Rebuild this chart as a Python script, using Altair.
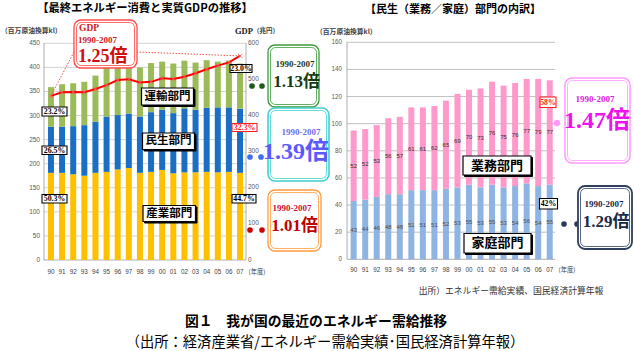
import altair as alt
import pandas as pd

# ---------------- data ----------------
years = ["90", "91", "92", "93", "94", "95", "96", "97", "98", "99",
         "00", "01", "02", "03", "04", "05", "06", "07"]
industry = [181, 181, 178, 175, 181, 183, 188, 191, 181, 183, 187, 180, 182, 182, 183, 182, 183, 181]
minsei = [96, 96, 100, 105, 106, 115, 113, 113, 117, 124, 125, 125, 133, 130, 133, 135, 134, 133]
transport = [82, 88, 89, 90, 96, 104, 104, 101, 102, 102, 100, 103, 99, 98, 99, 95, 97, 94]
gdp = [454, 464, 465, 464, 473, 484, 498, 500, 491, 493, 503, 501, 507, 517, 528, 538, 547, 565]
household = [43, 44, 46, 48, 48, 51, 51, 51, 52, 53, 55, 53, 55, 53, 54, 56, 54, 55]
business = [52, 52, 53, 56, 57, 61, 61, 62, 65, 69, 70, 73, 76, 75, 76, 77, 79, 77]
left_ticks = [0, 50, 100, 150, 200, 250, 300, 350, 400, 450]
gdp_ticks = [0, 100, 200, 300, 400, 500, 600]
right_ticks = [0, 20, 40, 60, 80, 100, 120, 140, 160]
left_sectors = ["産業部門", "民生部門", "運輸部門"]
right_sectors = ["家庭部門", "業務部門"]

# ---------------- styles ----------------
JP = "Noto Sans CJK JP"
SERIF = "Liberation Serif, Noto Sans CJK JP"
SANS = "Liberation Sans, Noto Sans CJK JP"
ONE = pd.DataFrame({"k": [0]})

L_X = alt.Scale(type="band", domain=years, range=[45.4, 245.6], paddingInner=0.46, paddingOuter=0.23)
L_Y = alt.Scale(domain=[0, 450], range=[260, 43.3], nice=False)
G_Y = alt.Scale(domain=[0, 600], range=[259.5, 43.3], nice=False)
R_X = alt.Scale(type="band", domain=years, range=[347.9, 555.5], paddingInner=0.48, paddingOuter=0.24)
R_Y = alt.Scale(domain=[0, 160], range=[259.3, 42.3], nice=False)


def rect(x1, y1, x2, y2, stroke="black", sw=1.0, fill="white", r=0, fop=1):
    return alt.Chart(ONE).mark_rect(stroke=stroke, strokeWidth=sw, fill=fill, cornerRadius=r,
                                    fillOpacity=fop).encode(
        x=alt.value(x1), x2=alt.value(x2), y=alt.value(y1), y2=alt.value(y2))


def txt(x, y, s, size, color="black", font=JP, weight="normal", align="center"):
    return alt.Chart(ONE).mark_text(text=s, fontSize=size, color=color, font=font, fontWeight=weight,
                                    align=align, baseline="middle").encode(x=alt.value(x), y=alt.value(y))


def dot(x, y, color, size=28):
    return alt.Chart(ONE).mark_circle(color=color, size=size, opacity=1).encode(x=alt.value(x), y=alt.value(y))


def seg(x1, y1, x2, y2, color, sw=1.0):
    return alt.Chart(ONE).mark_rule(color=color, strokeWidth=sw).encode(
        x=alt.value(x1), x2=alt.value(x2), y=alt.value(y1), y2=alt.value(y2))


def callout(x1, y1, x2, y2, color, ow=1.3, iw=0.8, r=7):
    return [rect(x1, y1, x2, y2, stroke=color, sw=ow, r=r),
            rect(x1 + 2.5, y1 + 2.5, x2 - 2.5, y2 - 2.5, stroke=color, sw=iw, r=r - 2)]


def pct(x1, y1, x2, y2, s, color="black"):
    return [rect(x1, y1, x2, y2, stroke=color, sw=1.1),
            txt((x1 + x2) / 2, (y1 + y2) / 2 + 0.3, s, 7.8, color=color, font=SERIF, weight="bold")]


def secbox(x1, y1, x2, y2, s, size):
    return [rect(x1 + 1.5, y1 + 1.5, x2 + 1.5, y2 + 1.5, stroke="black", sw=1, fill="black"),
            rect(x1, y1, x2, y2, stroke="black", sw=1.2),
            txt((x1 + x2) / 2, (y1 + y2) / 2, s, size, weight="bold")]


layers = []

# ---------------- left chart ----------------
lt = pd.DataFrame({"v": left_ticks})
layers.append(alt.Chart(lt[lt.v > 0]).mark_rule(color="#c8c8c8", strokeWidth=0.8).encode(
    y=alt.Y("v:Q", scale=L_Y, axis=None), x=alt.value(44), x2=alt.value(246)))
layers.append(alt.Chart(lt).mark_text(align="right", baseline="middle", fontSize=6.5, color="#595959",
                                      font=SANS).encode(
    y=alt.Y("v:Q", scale=L_Y, axis=None), x=alt.value(40), text="v:Q"))
gt = pd.DataFrame({"v": gdp_ticks})
layers.append(alt.Chart(gt).mark_text(align="left", baseline="middle", fontSize=6.5, color="#595959",
                                      font=SANS).encode(
    y=alt.Y("v:Q", scale=G_Y, axis=None), x=alt.value(248), text="v:Q"))
layers += [seg(44, 43, 44, 260, "#999999", 0.8), seg(246, 43, 246, 260, "#999999", 0.8),
           seg(44, 260, 246, 260, "#999999", 0.8)]

rows = []
for i, yr in enumerate(years):
    for o, (s, arr) in enumerate(zip(left_sectors, [industry, minsei, transport])):
        rows.append({"year": yr, "sector": s, "value": arr[i], "ord": o})
ldf = pd.DataFrame(rows)
layers.append(alt.Chart(ldf).mark_bar().encode(
    x=alt.X("year:N", scale=L_X, axis=None),
    y=alt.Y("value:Q", scale=L_Y, axis=None, stack="zero"),
    color=alt.Color("sector:N", scale=alt.Scale(domain=left_sectors,
                                                range=["#FFC000", "#1A6FC4", "#9BBB59"]), legend=None),
    order=alt.Order("ord:Q")))

xl = pd.DataFrame({"year": years})
layers.append(alt.Chart(xl).mark_text(fontSize=6.3, color="#404040", font=SANS, baseline="middle").encode(
    x=alt.X("year:N", scale=L_X, axis=None), y=alt.value(272), text="year:N"))
layers.append(txt(257, 272, "(年度)", 6.3, color="#404040", font=JP))

gdf = pd.DataFrame({"year": years, "gdp": gdp})
layers.append(alt.Chart(gdf).mark_line(color="#FF0000", strokeWidth=2).encode(
    x=alt.X("year:N", scale=L_X, axis=None), y=alt.Y("gdp:Q", scale=G_Y, axis=None)))
layers.append(alt.Chart(gdf).mark_point(shape="M-1,-1L1,1M-1,1L1,-1", size=14, color="#ff6060",
                                        filled=False, strokeWidth=1, opacity=1).encode(
    x=alt.X("year:N", scale=L_X, axis=None), y=alt.Y("gdp:Q", scale=G_Y, axis=None)))

# leader lines from GDP callout to first / last GDP point
layers.append(alt.Chart(gdf.iloc[[0]]).mark_rule(color="#ff5050", strokeWidth=1, strokeDash=[1.5, 1.5]).encode(
    x=alt.X("year:N", scale=L_X, axis=None), y=alt.Y("gdp:Q", scale=G_Y, axis=None),
    x2=alt.value(75), y2=alt.value(50)))
layers.append(alt.Chart(gdf.iloc[[-1]]).mark_rule(color="#ff5050", strokeWidth=1, strokeDash=[1.5, 1.5]).encode(
    x=alt.X("year:N", scale=L_X, axis=None), y=alt.Y("gdp:Q", scale=G_Y, axis=None),
    x2=alt.value(137), y2=alt.value(52)))

# ---------------- right chart ----------------
rt = pd.DataFrame({"v": right_ticks})
layers.append(alt.Chart(rt[rt.v > 0]).mark_rule(color="#b0b0b0", strokeWidth=0.8).encode(
    y=alt.Y("v:Q", scale=R_Y, axis=None), x=alt.value(347), x2=alt.value(555)))
layers.append(alt.Chart(rt).mark_text(align="right", baseline="middle", fontSize=6.3, color="#595959",
                                      font=SANS).encode(
    y=alt.Y("v:Q", scale=R_Y, axis=None), x=alt.value(342), text="v:Q"))
layers += [seg(347, 42, 347, 259.3, "#999999", 0.8), seg(347, 259.3, 555, 259.3, "#999999", 0.8)]

rrows, lrows = [], []
for i, yr in enumerate(years):
    rrows.append({"year": yr, "sector": right_sectors[0], "value": household[i], "ord": 0})
    rrows.append({"year": yr, "sector": right_sectors[1], "value": business[i], "ord": 1})
    lrows.append({"year": yr, "value": household[i], "mid": household[i] / 2, "c": "h"})
    lrows.append({"year": yr, "value": business[i], "mid": household[i] + business[i] / 2, "c": "b"})
rdf = pd.DataFrame(rrows)
layers.append(alt.Chart(rdf).mark_bar().encode(
    x=alt.X("year:N", scale=R_X, axis=None),
    y=alt.Y("value:Q", scale=R_Y, axis=None, stack="zero"),
    color=alt.Color("sector:N", scale=alt.Scale(domain=right_sectors, range=["#8DB4E2", "#FF99CC"]),
                    legend=None),
    order=alt.Order("ord:Q")))
labdf = pd.DataFrame(lrows)
layers.append(alt.Chart(labdf).mark_text(fontSize=6, font=SANS, baseline="middle").encode(
    x=alt.X("year:N", scale=R_X, axis=None), y=alt.Y("mid:Q", scale=R_Y, axis=None), text="value:Q",
    color=alt.Color("c:N", scale=alt.Scale(domain=["h", "b"], range=["#505050", "#303030"]), legend=None)))
layers.append(alt.Chart(xl).mark_text(fontSize=6.3, color="#404040", font=SANS, baseline="middle").encode(
    x=alt.X("year:N", scale=R_X, axis=None), y=alt.value(270), text="year:N"))
layers.append(txt(567, 270, "(年度)", 6.3, color="#404040", font=JP))

# ---------------- annotations ----------------
# titles & units
layers.append(txt(145, 9, "【最終エネルギー消費と実質GDPの推移】", 11.3, weight="bold"))
layers.append(txt(453, 10, "【民生（業務／家庭）部門の内訳】", 11, weight="bold"))
layers.append(txt(1, 31, "（百万原油換算kl）", 6.8, color="#404040", weight="bold", align="left"))
layers.append(txt(316, 31.5, "（百万原油換算kl）", 6.8, color="#404040", weight="bold", align="left"))
layers.append(txt(235, 31, "GDP", 8.5, color="#202020", font=SERIF, weight="bold", align="left"))
layers.append(txt(253, 31, "（兆円）", 6.5, color="#404040", weight="bold", align="left"))

# GDP callout
layers += callout(74, 20, 137, 68, "#ff4848")
layers.append(txt(79, 27.5, "GDP", 9.5, color="#d01818", font=SERIF, weight="bold", align="left"))
layers.append(txt(78, 39.5, "1990-2007", 9, color="#d01818", font=SERIF, weight="bold", align="left"))
layers.append(txt(78, 56.5, "1.25倍", 18, color="#d01010", font=SERIF, weight="bold", align="left"))

# sector boxes
layers += secbox(141.5, 88, 193.5, 105, "運輸部門", 11.5)
layers += secbox(142.5, 133, 194.5, 149.5, "民生部門", 11.5)
layers += secbox(143, 205.5, 195.5, 221.5, "産業部門", 11.5)
layers += secbox(463, 156, 531, 175, "業務部門", 13)
layers += secbox(464, 233.5, 531, 253, "家庭部門", 13)

# percentage labels
layers += pct(42, 107, 67, 116, "23.2%")
layers += pct(42, 146, 67, 154.5, "26.5%")
layers += pct(42, 194.5, 67, 203, "50.3%")
layers += pct(230, 64.5, 252, 72.5, "23.0%")
layers += pct(232, 123.5, 257, 131.5, "32.3%", color="#ff2020")
layers += pct(232, 194.5, 256, 203, "44.7%")
layers += pct(540, 97, 556, 107.5, "58%", color="#ff2020")
layers += pct(539.5, 198.5, 557.5, 209, "42%")

# growth callouts, left chart
layers += [dot(252, 86, "#1a5c1a", 32), dot(262, 86, "#1a5c1a", 32)]
layers += callout(268, 45, 319, 107, "#3c9a3c")
layers.append(txt(295, 64, "1990-2007", 9, color="#1e3a1e", font=SERIF, weight="bold"))
layers.append(txt(296.5, 82, "1.13倍", 17, color="#143c14", font=SERIF, weight="bold"))

layers += [dot(250, 157, "#3d6ef5", 32), dot(261, 157, "#3d6ef5", 32)]
layers += callout(268, 108, 329, 181, "#40d0d0", ow=1.6)
layers.append(txt(301, 131.5, "1990-2007", 9, color="#6f6ff0", font=SERIF, weight="bold"))
layers.append(txt(263, 152, "1.39倍", 24, color="#5a5aff", font=SERIF, weight="bold", align="left"))

layers += [dot(250, 230, "#cc0000", 32), dot(262, 230, "#cc0000", 32)]
layers += callout(268, 190, 321, 251, "#ff9a3c")
layers.append(txt(292, 207.5, "1990-2007", 9, color="#cc1030", font=SERIF, weight="bold"))
layers.append(txt(294.5, 226, "1.01倍", 17, color="#c00000", font=SERIF, weight="bold"))

# growth callouts, right chart
layers.append(dot(557, 123, "#ff99ff", size=40))
layers += callout(565, 78, 630, 163, "#ff99ff", ow=1.5)
layers.append(txt(595, 99, "1990-2007", 9, color="#e020e0", font=SERIF, weight="bold"))
layers.append(txt(564, 121, "1.47倍", 24, color="#f010f0", font=SERIF, weight="bold", align="left"))

layers += [dot(564, 224, "#2a3a5a", 32), dot(577, 224, "#2a3a5a", 32)]
layers += callout(578, 186, 632, 249, "#2f3f5f", ow=1.8)
layers.append(txt(604, 203.5, "1990-2007", 9, color="#1a2a4a", font=SERIF, weight="bold"))
layers.append(txt(606, 222, "1.29倍", 17, color="#1a2a4a", font=SERIF, weight="bold"))

# source & caption
layers.append(txt(511, 291, "出所）エネルギー需給実績、国民経済計算年報", 8.8, color="#303030"))
layers.append(txt(316, 321.5, "図１　我が国の最近のエネルギー需給推移", 13.8, weight="bold"))
layers.append(txt(325, 342.5, "（出所：経済産業省/エネルギー需給実績･国民経済計算年報）", 14.3))

chart = alt.layer(*layers).resolve_scale(
    x="independent", y="independent", color="independent"
).properties(width=634, height=351, padding=0, autosize="none", background="white"
).configure_view(stroke=None)

chart.save("out.html", embed_options={"renderer": "svg", "actions": False})
